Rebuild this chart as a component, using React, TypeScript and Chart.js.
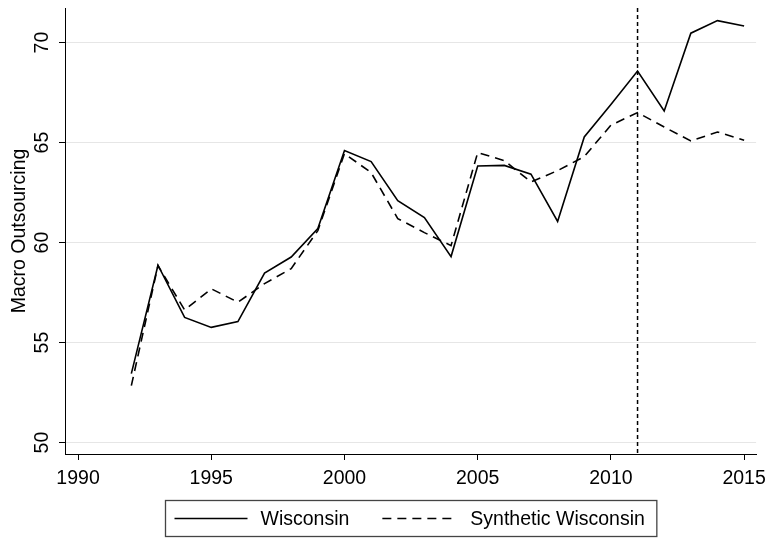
import React, { useEffect, useRef } from "react";
import { Chart, registerables } from "chart.js";

Chart.register(...registerables);

const years = [1992, 1993, 1994, 1995, 1996, 1997, 1998, 1999, 2000, 2001, 2002, 2003, 2004, 2005, 2006, 2007, 2008, 2009, 2010, 2011, 2012, 2013, 2014, 2015];
const wisconsin = [53.45, 58.87, 56.26, 55.76, 56.05, 58.48, 59.28, 60.7, 64.6, 64.05, 62.1, 61.25, 59.3, 63.83, 63.86, 63.42, 61.06, 65.28, 66.9, 68.58, 66.58, 70.47, 71.1, 70.83];
const synthetic = [52.85, 58.85, 56.63, 57.69, 57.02, 57.95, 58.7, 60.6, 64.45, 63.5, 61.2, 60.5, 59.85, 64.5, 64.1, 63.03, 63.6, 64.3, 65.87, 66.5, 65.78, 65.08, 65.53, 65.12];
const xTicks = [1990, 1995, 2000, 2005, 2010, 2015];
const yTicks = [50, 55, 60, 65, 70];
const treatmentYear = 2011;
const seriesNames = ["Wisconsin", "Synthetic Wisconsin"];
const yTitle = "Macro Outsourcing";

const FONT = "'Liberation Sans', Arial, Helvetica, sans-serif";
const FS = 19.5;

const overlayPlugin = {
  id: "overlay",
  afterDatasetsDraw(chart: any) {
    const { ctx, chartArea, scales } = chart;
    const x = scales.x.getPixelForValue(treatmentYear);
    ctx.save();
    ctx.strokeStyle = "#000";
    ctx.lineWidth = 1.5;
    ctx.setLineDash([4, 3]);
    ctx.beginPath();
    ctx.moveTo(x, chartArea.top);
    ctx.lineTo(x, chartArea.bottom);
    ctx.stroke();
    ctx.restore();
  },
  afterDraw(chart: any) {
    const { ctx, chartArea, scales } = chart;
    ctx.save();
    ctx.fillStyle = "#000";
    ctx.font = `${FS}px ${FONT}`;
    const ys = scales.y;
    ys.ticks.forEach((t: any) => {
      const py = ys.getPixelForValue(t.value);
      ctx.save();
      ctx.translate(chartArea.left - 17, py);
      ctx.rotate(-Math.PI / 2);
      ctx.textAlign = "center";
      ctx.textBaseline = "alphabetic";
      ctx.fillText(String(t.value), 0, 0);
      ctx.restore();
    });
    const w1 = ctx.measureText(seriesNames[0]).width;
    const w2 = ctx.measureText(seriesNames[1]).width;
    const padL = 9, sample = 73, gap1 = 13, between = 33, gap2 = 15, padR = 12;
    const total = padL + sample + gap1 + w1 + between + sample + gap2 + w2 + padR;
    const cx = (chartArea.left + chartArea.right) / 2;
    const bx = Math.round(cx - total / 2) + 0.5;
    const by = 500.5;
    const bh = 36;
    const my = by + bh / 2;
    ctx.strokeStyle = "#444";
    ctx.lineWidth = 1.3;
    ctx.strokeRect(bx, by, total, bh);
    let cur = bx + padL;
    ctx.strokeStyle = "#000";
    ctx.lineWidth = 1.6;
    ctx.beginPath();
    ctx.moveTo(cur, my);
    ctx.lineTo(cur + sample, my);
    ctx.stroke();
    cur += sample + gap1;
    ctx.textAlign = "left";
    ctx.textBaseline = "middle";
    ctx.fillText(seriesNames[0], cur, my + 1);
    cur += w1 + between;
    ctx.setLineDash([9, 6]);
    ctx.beginPath();
    ctx.moveTo(cur, my);
    ctx.lineTo(cur + sample, my);
    ctx.stroke();
    ctx.setLineDash([]);
    cur += sample + gap2;
    ctx.fillText(seriesNames[1], cur, my + 1);
    ctx.restore();
  },
};

export default function App() {
  const ref = useRef<HTMLCanvasElement | null>(null);
  useEffect(() => {
    document.body.style.margin = "0";
    const canvas = ref.current;
    if (!canvas) return;
    const chart = new Chart(canvas, {
      type: "line",
      data: {
        datasets: [
          {
            label: seriesNames[0],
            data: years.map((y, i) => ({ x: y, y: wisconsin[i] })),
            borderColor: "#000",
            borderWidth: 1.6,
            pointRadius: 0,
            tension: 0,
            fill: false,
          },
          {
            label: seriesNames[1],
            data: years.map((y, i) => ({ x: y, y: synthetic[i] })),
            borderColor: "#000",
            borderWidth: 1.6,
            borderDash: [9, 6],
            pointRadius: 0,
            tension: 0,
            fill: false,
          },
        ],
      },
      options: {
        responsive: false,
        animation: false,
        devicePixelRatio: 1,
        layout: { padding: { left: 0, right: 11, top: 8, bottom: 0 } },
        plugins: { legend: { display: false }, tooltip: { enabled: false } },
        scales: {
          x: {
            type: "linear",
            min: 1989.51,
            max: 2015.45,
            afterBuildTicks: (s: any) => {
              s.ticks = xTicks.map((v) => ({ value: v }));
            },
            afterFit: (s: any) => {
              s.height = 86;
            },
            ticks: {
              color: "#000",
              font: { family: FONT, size: FS, lineHeight: 1.62 },
              padding: 3,
              maxRotation: 0,
              minRotation: 0,
              callback: (v: any) => String(v),
            },
            grid: {
              drawOnChartArea: false,
              drawTicks: true,
              tickLength: 6,
              tickColor: "#000",
              tickWidth: 1,
            },
            border: { display: true, color: "#000", width: 1 },
          },
          y: {
            type: "linear",
            min: 49.43,
            max: 71.73,
            afterBuildTicks: (s: any) => {
              s.ticks = yTicks.map((v) => ({ value: v }));
            },
            afterFit: (s: any) => {
              s.width = 65;
            },
            ticks: { display: false },
            title: {
              display: true,
              text: yTitle,
              color: "#000",
              font: { family: FONT, size: FS },
              padding: { top: 8, bottom: 0 },
            },
            grid: {
              color: "#e6e6e6",
              lineWidth: 1,
              drawTicks: true,
              tickLength: 6,
              tickColor: "#000",
              tickWidth: 1,
            },
            border: { display: true, color: "#000", width: 1 },
          },
        },
      },
      plugins: [overlayPlugin],
    });
    return () => chart.destroy();
  }, []);
  return (
    <div style={{ width: 769, height: 540 }}>
      <canvas ref={ref} width={769} height={540} style={{ display: "block" }} />
    </div>
  );
}
